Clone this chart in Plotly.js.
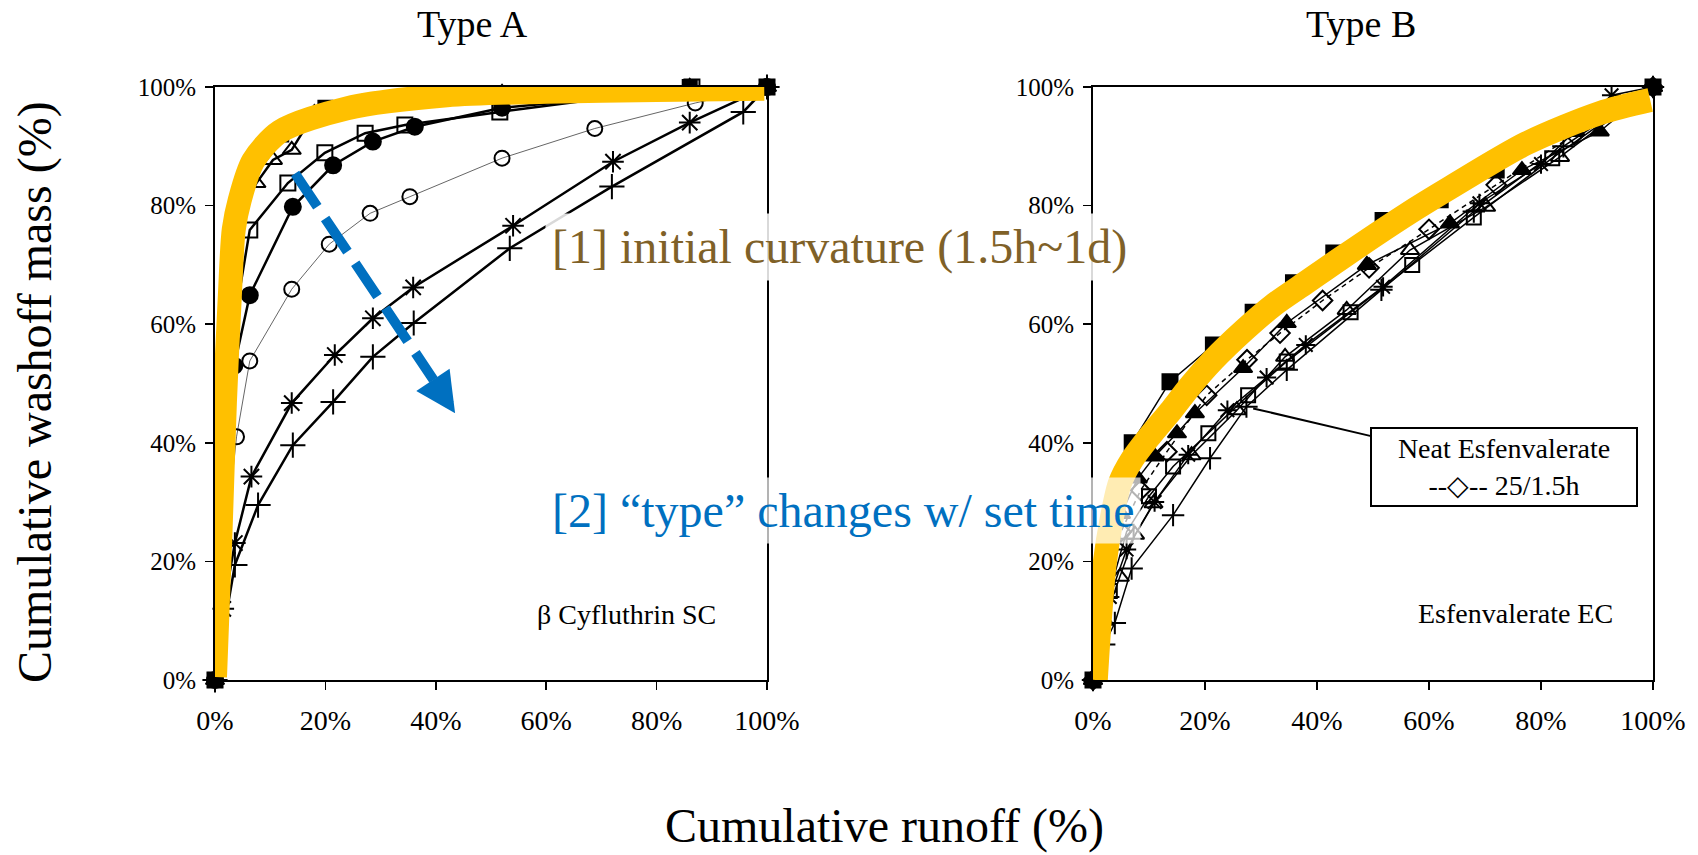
<!DOCTYPE html>
<html>
<head>
<meta charset="utf-8">
<script src="https://cdn.plot.ly/plotly-3.0.1.min.js"></script>
<style>
  html, body { margin: 0; padding: 0; background: #fff; }
  #chart { width: 1698px; height: 855px; }
</style>
</head>
<body>
<div id="chart"></div>
<script>
// ---------- β Cyfluthrin SC (Type A): cumulative runoff % vs cumulative washoff mass % ----------
const cyfFilledSqX = [0, 1.7, 3.4, 6.9, 12, 20, 28, 36, 52, 86, 100];
const cyfFilledSqY = [0, 45, 75, 87.5, 92, 96.5, 97.5, 98, 99, 100, 100];
const cyfTriX = [0, 2.6, 3.9, 7.5, 10.5, 13.9, 18, 28, 36, 52, 86, 100];
const cyfTriY = [0, 62, 78, 83.8, 87.7, 89.4, 95.6, 97, 98, 99, 100, 100];
const cyfSqX = [0, 2, 6.3, 13.2, 19.9, 27.2, 34.4, 51.6, 86.4, 100];
const cyfSqY = [0, 52, 75.9, 83.8, 88.9, 92.2, 93.6, 95.8, 100, 100];
const cyfDotX = [0, 3.5, 6.3, 14.1, 21.4, 28.6, 36.2, 52, 86, 100];
const cyfDotY = [0, 53, 64.9, 79.8, 86.8, 90.8, 93.3, 96.5, 99.5, 100];
const cyfRingX = [0, 1.5, 3.9, 6.3, 13.9, 20.7, 28.1, 35.3, 52, 68.8, 87, 100];
const cyfRingY = [0, 20, 41, 53.8, 65.9, 73.5, 78.7, 81.5, 88, 93, 97.3, 100];
const cyfStarX = [0, 1.5, 3.6, 6.6, 13.9, 21.7, 28.6, 35.9, 54, 72.1, 86, 100];
const cyfStarY = [0, 12, 23.1, 34.3, 46.7, 54.8, 61, 66.2, 76.6, 87.4, 94, 100];
const cyfPlusX = [0, 3.6, 7.8, 14.1, 21.4, 28.6, 36, 53.4, 71.9, 95.7, 100];
const cyfPlusY = [0, 19.4, 29.5, 39.6, 46.9, 54.5, 60.2, 72.8, 83.2, 95.8, 100];
// highlighted envelope for Type A
const typeAEnvX = [0, 1, 1.8, 2.7, 3.4, 4.5, 6.9, 11.8, 23.9, 42, 60, 80, 99.5];
const typeAEnvY = [0.5, 25, 47, 65, 76, 81, 87.5, 92.5, 96.4, 98.6, 99.2, 99.5, 99.7];

// ---------- Esfenvalerate EC (Type B) ----------
const esfFilledSqX = [0, 3, 7, 13.75, 21.5, 28.6, 35.8, 43, 51.8, 62, 72, 86, 100];
const esfFilledSqY = [0, 25, 40, 50.3, 56.5, 62, 67, 72, 77.5, 81, 86, 93, 100];
const esfFilledTriX = [0, 2, 5, 8, 11, 15, 18.2, 26.8, 34.6, 48.9, 63.75, 76.6, 90.5, 100];
const esfFilledTriY = [0, 16, 28, 34, 37.7, 41.6, 45, 52.6, 60.2, 70, 77, 86, 92.5, 100];
const esfNeatX = [0, 2, 5, 8.5, 13.2, 20.3, 27.5, 33.4, 41, 49.3, 60, 72, 86, 100];
const esfNeatY = [0, 14, 25, 32, 38.5, 48, 54, 58.5, 64, 69.5, 76, 83.5, 92, 100];
const esfSqX = [0, 3, 6, 10, 14.3, 20.6, 27.7, 34.6, 46, 57, 68, 82, 100];
const esfSqY = [0, 15, 25, 31, 36, 41.6, 48, 53.7, 62, 70, 78, 88, 100];
const esfTriX = [0, 2, 4.8, 7.5, 10.8, 17.6, 25.7, 34.3, 45.3, 56.6, 70.2, 83.4, 100];
const esfTriY = [0, 10, 17.4, 24.5, 29.8, 37.9, 45.5, 54.5, 62.4, 72.5, 79.8, 88.2, 100];
const esfStarX = [0, 3, 6, 11, 17, 24, 31, 38, 51.8, 69, 80, 92.6, 100];
const esfStarY = [0, 14, 22, 30, 38, 45.5, 51, 56.5, 66.3, 80.4, 87, 98.6, 100];
const esfPlusX = [0, 2, 3.9, 6.9, 14.3, 20.9, 27.4, 34.6, 51.5, 68, 84, 100];
const esfPlusY = [0, 6, 9.6, 18.8, 27.8, 37.4, 46.1, 52.3, 65.8, 79, 90, 100];
// highlighted envelope for Type B
const typeBEnvX = [0.5, 1.2, 2.1, 3.3, 4.8, 7, 10.2, 14, 17.3, 21.5, 27, 32.2, 38, 44.1, 56, 63.75, 77.4, 90.5, 99.5];
const typeBEnvY = [0, 10, 19.7, 27, 33.2, 37.2, 41.2, 45.5, 49.5, 54, 59, 63.2, 67, 71, 78.5, 83, 90.5, 95.6, 97.8];

// axis ticks
const tickVals = [0, 20, 40, 60, 80, 100];
const tickText = ['0%', '20%', '40%', '60%', '80%', '100%'];

// dashed trend arrow across the Type A family (runoff %, washoff %)
const trendStart = [14.5, 85.4];
const trendShaftEnd = [39.6, 50.6];
const trendTip = [43.5, 45];

// callout target on the neat esfenvalerate curve
const neatPoint = [28.6, 45.8];

const SERIF = '"Liberation Serif", "Times New Roman", serif';
const BLUE = '#0070C0';
const GOLD = '#FFC000';

function series(x, y, axis, symbol, opts) {
  opts = opts || {};
  return {
    type: 'scatter', mode: 'lines+markers', x: x, y: y,
    xaxis: axis === 2 ? 'x2' : 'x', yaxis: axis === 2 ? 'y2' : 'y',
    cliponaxis: false, showlegend: false, hoverinfo: 'skip',
    line: { color: opts.lineColor || '#000', width: opts.lineWidth || 2.5, dash: opts.dash || 'solid' },
    marker: {
      symbol: symbol, size: opts.size || 16, color: opts.fill || '#000',
      line: { color: '#000', width: 2 }
    }
  };
}

function envelope(x, y, axis) {
  return {
    type: 'scatter', mode: 'lines', x: x, y: y,
    xaxis: axis === 2 ? 'x2' : 'x', yaxis: axis === 2 ? 'y2' : 'y',
    cliponaxis: false, showlegend: false, hoverinfo: 'skip',
    line: { color: GOLD, width: 24, shape: 'spline', smoothing: 0.8 }
  };
}

const traces = [
  series(cyfFilledSqX, cyfFilledSqY, 1, 'square', { size: 14 }),
  series(cyfTriX, cyfTriY, 1, 'triangle-up-open'),
  series(cyfSqX, cyfSqY, 1, 'square-open', { size: 15 }),
  series(cyfDotX, cyfDotY, 1, 'circle', { size: 16 }),
  series(cyfRingX, cyfRingY, 1, 'circle-open', { size: 15, lineWidth: 1, lineColor: '#666' }),
  series(cyfStarX, cyfStarY, 1, 'asterisk-open', { size: 18 }),
  series(cyfPlusX, cyfPlusY, 1, 'cross-thin-open', { size: 18 }),

  series(esfFilledSqX, esfFilledSqY, 2, 'square', { size: 15, lineWidth: 1.5 }),
  series(esfFilledTriX, esfFilledTriY, 2, 'triangle-up', { size: 16, lineWidth: 1.5 }),
  series(esfNeatX, esfNeatY, 2, 'diamond-open', { size: 15, lineWidth: 1.5, dash: '5px,4px' }),
  series(esfSqX, esfSqY, 2, 'square-open', { size: 14, lineWidth: 1.5 }),
  series(esfTriX, esfTriY, 2, 'triangle-up-open', { size: 16, lineWidth: 1.5 }),
  series(esfStarX, esfStarY, 2, 'asterisk-open', { size: 16, lineWidth: 1.5 }),
  series(esfPlusX, esfPlusY, 2, 'cross-thin-open', { size: 16, lineWidth: 1.5 }),

  envelope(typeAEnvX, typeAEnvY, 1),
  envelope(typeBEnvX, typeBEnvY, 2)
];

const W = 1698, H = 855;
const px = v => v / W;
const py = v => 1 - v / H;

function xAxis(domain, anchor) {
  return {
    domain: domain, anchor: anchor, range: [0, 100],
    tickvals: tickVals, ticktext: tickText,
    showline: true, mirror: true, linecolor: '#000', linewidth: 2,
    ticks: 'outside', ticklen: 8, tickwidth: 1.5, tickcolor: '#000',
    showgrid: false, zeroline: false, fixedrange: true,
    ticklabelstandoff: 6,
    tickfont: { family: SERIF, size: 28, color: '#000' }
  };
}
function yAxis(anchor) {
  return {
    domain: [py(680), py(87)], anchor: anchor, range: [0, 100],
    tickvals: tickVals, ticktext: tickText,
    showline: true, mirror: true, linecolor: '#000', linewidth: 2,
    ticks: 'outside', ticklen: 8, tickwidth: 1.5, tickcolor: '#000',
    showgrid: false, zeroline: false, fixedrange: true,
    ticklabelstandoff: 4,
    tickfont: { family: SERIF, size: 25, color: '#000' }
  };
}

const textAnn = (text, x, y, size, extra) => Object.assign({
  text: text, xref: 'paper', yref: 'paper', x: x, y: y,
  xanchor: 'center', yanchor: 'middle',
  showarrow: false, font: { family: SERIF, size: size, color: '#000' }
}, extra || {});

const annotations = [
  textAnn('Type A', px(473), py(24), 38),
  textAnn('Type B', px(1361), py(24), 38),
  textAnn('Cumulative washoff mass (%)', px(35), py(392), 48, { textangle: -90 }),
  textAnn('Cumulative runoff (%)', px(884), py(826), 48),
  textAnn('β Cyfluthrin SC', px(626), py(614), 28),
  textAnn('Esfenvalerate EC', px(1515), py(613), 28),
  {
    text: 'Neat Esfenvalerate<br>--◇-- 25/1.5h',
    xref: 'x2', yref: 'y2', x: neatPoint[0], y: neatPoint[1],
    ax: 251, ay: 59, showarrow: true, arrowhead: 0, arrowwidth: 2, arrowcolor: '#000',
    bgcolor: '#fff', bordercolor: '#000', borderwidth: 2, borderpad: 1,
    width: 262, height: 74,
    font: { family: SERIF, size: 28, color: '#000' }
  },
  textAnn('[1] initial curvature (1.5h~1d)', px(545), py(247), 48, {
    xanchor: 'left', bgcolor: 'rgba(255,255,255,0.85)', borderpad: 6,
    font: { family: SERIF, size: 48, color: '#7F6128' }
  }),
  textAnn('[2] \u201Ctype\u201D changes w/ set time', px(545), py(510), 48, {
    xanchor: 'left', bgcolor: 'rgba(255,255,255,0.7)', borderpad: 6,
    font: { family: SERIF, size: 48, color: BLUE }
  }),
  {
    text: '', xref: 'x', yref: 'y', x: trendTip[0], y: trendTip[1],
    ax: -22, ay: -33, showarrow: true, arrowhead: 2, arrowsize: 0.8,
    arrowwidth: 10, arrowcolor: BLUE, standoff: 0
  }
];

const shapes = [
  {
    type: 'line', xref: 'x', yref: 'y',
    x0: trendStart[0], y0: trendStart[1], x1: trendShaftEnd[0], y1: trendShaftEnd[1],
    line: { color: BLUE, width: 10, dash: '40px,14px' }
  }
];

const layout = {
  width: W, height: H,
  margin: { l: 0, r: 0, t: 0, b: 0 },
  paper_bgcolor: '#fff', plot_bgcolor: '#fff',
  showlegend: false, hovermode: false,
  font: { family: SERIF, color: '#000' },
  xaxis: xAxis([px(215), px(767)], 'y'),
  yaxis: yAxis('x'),
  xaxis2: xAxis([px(1093), px(1653)], 'y2'),
  yaxis2: yAxis('x2'),
  annotations: annotations,
  shapes: shapes
};

Plotly.newPlot('chart', traces, layout, { staticPlot: true, displayModeBar: false });
</script>
</body>
</html>
